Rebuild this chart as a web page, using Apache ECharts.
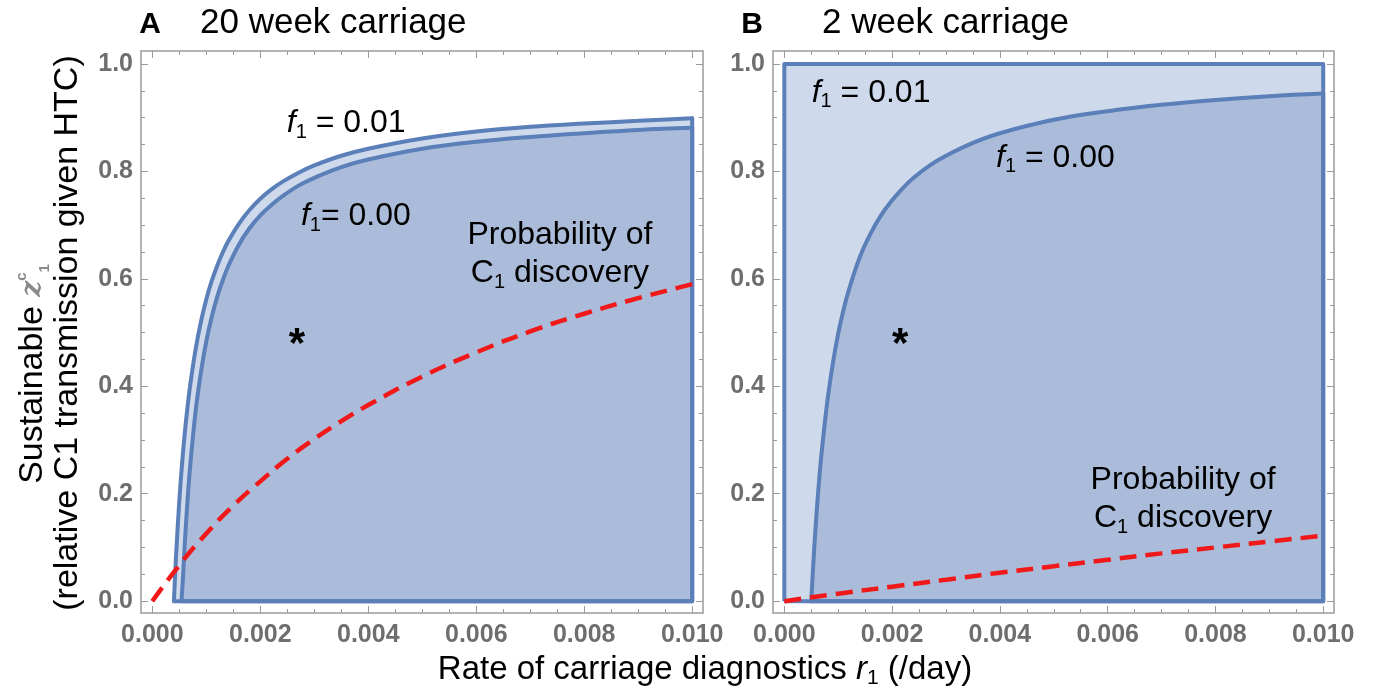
<!DOCTYPE html>
<html>
<head>
<meta charset="utf-8">
<script src="https://cdn.jsdelivr.net/npm/echarts@6/dist/echarts.min.js"></script>
<style>html,body{margin:0;background:#fff}#main{width:1374px;height:692px}</style>
</head>
<body>
<div id="main"></div>
<script>
// panel A (20 week carriage) - f1 = 0.01 boundary
const rA_f01 = [0.0004, 0.00042, 0.00045, 0.0005, 0.00055, 0.0006, 0.00065, 0.0007, 0.0008, 0.0009, 0.001, 0.0011, 0.0012, 0.0013, 0.0014, 0.0016, 0.0018, 0.002, 0.0022, 0.0024, 0.0027, 0.003, 0.0035, 0.004, 0.005, 0.006, 0.007, 0.008, 0.009, 0.010]
const zA_f01 = [0, 0.045, 0.104, 0.187, 0.255, 0.312, 0.360, 0.401, 0.468, 0.520, 0.562, 0.596, 0.624, 0.648, 0.669, 0.702, 0.728, 0.749, 0.766, 0.780, 0.797, 0.811, 0.829, 0.842, 0.861, 0.874, 0.883, 0.889, 0.894, 0.899]
// panel A - f1 = 0.00 boundary
const rA_f00 = [0.00054, 0.00057, 0.0006, 0.00065, 0.0007, 0.0008, 0.0009, 0.001, 0.0011, 0.0012, 0.0013, 0.0014, 0.0016, 0.0018, 0.002, 0.0022, 0.0024, 0.0027, 0.003, 0.0035, 0.004, 0.005, 0.006, 0.007, 0.008, 0.009, 0.010]
const zA_f00 = [0, 0.048, 0.105, 0.185, 0.250, 0.352, 0.426, 0.484, 0.529, 0.566, 0.596, 0.622, 0.663, 0.694, 0.718, 0.737, 0.753, 0.773, 0.788, 0.808, 0.822, 0.842, 0.855, 0.864, 0.871, 0.877, 0.881]
// panel A - probability of C1 discovery
const rA_disc = [0, 0.0005, 0.001, 0.0015, 0.002, 0.0025, 0.003, 0.0035, 0.004, 0.005, 0.006, 0.007, 0.008, 0.009, 0.010]
const pA_disc = [0, 0.067, 0.126, 0.178, 0.223, 0.265, 0.302, 0.335, 0.365, 0.418, 0.463, 0.502, 0.535, 0.564, 0.590]

// panel B (2 week carriage) - f1 = 0.01 covers the whole box
const rB_f01 = [0, 0, 0.010, 0.010, 0]
const zB_f01 = [0, 1, 1, 0, 0]
// panel B - f1 = 0.00 boundary
const rB_f00 = [0.0005, 0.00052, 0.00055, 0.0006, 0.00065, 0.0007, 0.0008, 0.0009, 0.001, 0.0011, 0.0012, 0.0014, 0.0016, 0.0018, 0.002, 0.0022, 0.0024, 0.0027, 0.003, 0.0035, 0.004, 0.005, 0.006, 0.007, 0.008, 0.009, 0.010]
const zB_f00 = [0, 0.038, 0.090, 0.166, 0.230, 0.284, 0.373, 0.442, 0.498, 0.543, 0.580, 0.640, 0.684, 0.719, 0.746, 0.769, 0.788, 0.811, 0.829, 0.853, 0.871, 0.896, 0.912, 0.924, 0.933, 0.940, 0.945]
// panel B - probability of C1 discovery
const rB_disc = [0, 0.001, 0.002, 0.003, 0.004, 0.005, 0.006, 0.007, 0.008, 0.009, 0.010]
const pB_disc = [0, 0.014, 0.027, 0.040, 0.053, 0.065, 0.077, 0.089, 0.100, 0.111, 0.122]

// ticks
const xMajor = [0, 0.002, 0.004, 0.006, 0.008, 0.010]
const xMinor = [0.0005, 0.001, 0.0015, 0.0025, 0.003, 0.0035, 0.0045, 0.005, 0.0055, 0.0065, 0.007, 0.0075, 0.0085, 0.009, 0.0095]
const yMajor = [0, 0.2, 0.4, 0.6, 0.8, 1.0]
const yMinor = [0.05, 0.1, 0.15, 0.25, 0.3, 0.35, 0.45, 0.5, 0.55, 0.65, 0.7, 0.75, 0.85, 0.9, 0.95]

const FONT = "'Liberation Sans', Arial, sans-serif"
const BLUE = '#5b7fb8'
const LIGHT = '#ced9eb'
const MID = '#abbcda'
const RED = '#f01818'
const FRAME = '#9a9a9a'

const chart = echarts.init(document.getElementById('main'), null, {renderer: 'canvas'})

function xAx(g, pos, ticks, len, withLabels) {
  return {
    type: 'value', gridIndex: g, position: pos, min: -0.00021, max: 0.0102,
    axisLine: {show: false, onZero: false},
    splitLine: {show: false},
    axisTick: {show: true, inside: true, length: len, customValues: ticks, lineStyle: {color: FRAME, width: 1}},
    axisLabel: {show: withLabels, customValues: xMajor, margin: 10, formatter: v => v.toFixed(3),
      color: '#6e6e6e', fontWeight: 'bold', fontSize: 25, fontFamily: FONT}
  }
}
function yAx(g, pos, ticks, len, withLabels) {
  return {
    type: 'value', gridIndex: g, position: pos, min: -0.022, max: 1.024,
    axisLine: {show: false, onZero: false},
    splitLine: {show: false},
    axisTick: {show: true, inside: true, length: len, customValues: ticks, lineStyle: {color: FRAME, width: 1}},
    axisLabel: {show: withLabels, customValues: yMajor, margin: 8, formatter: v => v.toFixed(1),
      color: '#6e6e6e', fontWeight: 'bold', fontSize: 25, fontFamily: FONT}
  }
}

function pairs(xs, ys) { return xs.map((x, i) => [x, ys[i]]) }

// a region under a curve, closed along x = 0.01 and the bottom edge
function region(xs, ys, fill, xi) {
  const n = xs.length - 1
  const closed = pairs(xs, ys).concat([[xs[n], 0], [xs[0], 0]])
  return [
    {type: 'line', xAxisIndex: xi, yAxisIndex: xi, data: closed, symbol: 'none', silent: true,
      lineStyle: {width: 0}, areaStyle: {color: fill, opacity: 1}},
    {type: 'line', xAxisIndex: xi, yAxisIndex: xi, data: [[xs[n], ys[n]], [xs[n], 0], [xs[0], 0]], symbol: 'none', silent: true,
      lineStyle: {color: BLUE, width: 4, join: 'round', cap: 'round'}},
    {type: 'line', xAxisIndex: xi, yAxisIndex: xi, data: pairs(xs, ys), symbol: 'none', silent: true, smooth: 0.4,
      lineStyle: {color: BLUE, width: 4, cap: 'round'}}
  ]
}
function box(xs, ys, fill, xi) {
  return [{type: 'line', xAxisIndex: xi, yAxisIndex: xi, data: pairs(xs, ys), symbol: 'none', silent: true,
    lineStyle: {color: BLUE, width: 4, join: 'round'}, areaStyle: {color: fill, opacity: 1}}]
}
function dashed(xs, ys, xi) {
  return {
    type: 'line', xAxisIndex: xi, yAxisIndex: xi, data: pairs(xs, ys),
    symbol: 'none', smooth: true, silent: true, z: 5,
    lineStyle: {color: RED, width: 4.5, type: [17, 9]}
  }
}

const rich = {
  n: {fontSize: 32, fontFamily: FONT, color: '#000', lineHeight: 38},
  i: {fontSize: 32, fontFamily: FONT, fontStyle: 'italic', color: '#000', lineHeight: 38},
  s: {fontSize: 20, fontFamily: FONT, color: '#000', lineHeight: 20, verticalAlign: 'bottom'},
  star: {fontSize: 42, fontFamily: FONT, fontWeight: 'bold', color: '#000'}
}
function note(at, text, xi) {
  return {
    type: 'scatter', xAxisIndex: xi, yAxisIndex: xi, symbolSize: 1, silent: true, z: 10,
    itemStyle: {color: 'rgba(0,0,0,0)'},
    data: [at],
    label: {show: true, position: 'inside', formatter: text, rich: rich, color: '#000', opacity: 1,
      align: 'center', verticalAlign: 'middle'}
  }
}
const probText = '{n|Probability of}\n{n|C}{s|1}{n| discovery}'

const option = {
  animation: false,
  backgroundColor: '#fff',
  grid: [
    {left: 141, top: 51, width: 562, height: 562, show: true, borderColor: FRAME, borderWidth: 1.5},
    {left: 773, top: 51, width: 561, height: 562, show: true, borderColor: FRAME, borderWidth: 1.5}
  ],
  xAxis: [
    xAx(0, 'bottom', xMajor, 7, true), xAx(0, 'top', xMajor, 7, false),
    xAx(0, 'bottom', xMinor, 4, false), xAx(0, 'top', xMinor, 4, false),
    xAx(1, 'bottom', xMajor, 7, true), xAx(1, 'top', xMajor, 7, false),
    xAx(1, 'bottom', xMinor, 4, false), xAx(1, 'top', xMinor, 4, false)
  ],
  yAxis: [
    yAx(0, 'left', yMajor, 7, true), yAx(0, 'right', yMajor, 7, false),
    yAx(0, 'left', yMinor, 4, false), yAx(0, 'right', yMinor, 4, false),
    yAx(1, 'left', yMajor, 7, true), yAx(1, 'right', yMajor, 7, false),
    yAx(1, 'left', yMinor, 4, false), yAx(1, 'right', yMinor, 4, false)
  ],
  series: [].concat(
    region(rA_f01, zA_f01, LIGHT, 0),
    region(rA_f00, zA_f00, MID, 0),
    [dashed(rA_disc, pA_disc, 0)],
    box(rB_f01, zB_f01, LIGHT, 4),
    region(rB_f00, zB_f00, MID, 4),
    [dashed(rB_disc, pB_disc, 4)],
    [
      note([0.00359, 0.89], '{i|f}{s|1}{n| = 0.01}', 0),
      note([0.00377, 0.716], '{i|f}{s|1}{n|= 0.00}', 0),
      note([0.00755, 0.645], probText, 0),
      note([0.00268, 0.476], '{star|*}', 0),
      note([0.00161, 0.946], '{i|f}{s|1}{n| = 0.01}', 4),
      note([0.00503, 0.825], '{i|f}{s|1}{n| = 0.00}', 4),
      note([0.0074, 0.19], probText, 4),
      note([0.00215, 0.476], '{star|*}', 4)
    ]
  ),
  graphic: [
    {type: 'text', x: 150, y: 25, style: {text: 'A', font: 'bold 30px ' + FONT, fill: '#000', textAlign: 'center', textVerticalAlign: 'middle'}},
    {type: 'text', x: 200, y: 23, style: {text: '20 week carriage', font: '35px ' + FONT, fill: '#000', textAlign: 'left', textVerticalAlign: 'middle'}},
    {type: 'text', x: 752, y: 25, style: {text: 'B', font: 'bold 30px ' + FONT, fill: '#000', textAlign: 'center', textVerticalAlign: 'middle'}},
    {type: 'text', x: 822, y: 23, style: {text: '2 week carriage', font: '35px ' + FONT, fill: '#000', textAlign: 'left', textVerticalAlign: 'middle'}},
    {type: 'text', x: 705, y: 670, style: {
      text: '{n|Rate of carriage diagnostics }{i|r}{s|1}{n| (/day)}', textAlign: 'center', textVerticalAlign: 'middle',
      rich: {n: {fontSize: 33, fontFamily: FONT, fill: '#000', lineHeight: 38}, i: {fontSize: 33, fontFamily: FONT, fontStyle: 'italic', fill: '#000', lineHeight: 38}, s: {fontSize: 21, fontFamily: FONT, fill: '#000', lineHeight: 20, verticalAlign: 'bottom'}}
    }},
    {type: 'text', x: 33, y: 374, rotation: Math.PI / 2, style: {
      text: '{n|Sustainable }{z|z}{sup|c}{sub|1}', textAlign: 'center', textVerticalAlign: 'middle',
      rich: {n: {fontSize: 34, fontFamily: FONT, fill: '#000', lineHeight: 38}, z: {fontSize: 28, fontFamily: 'DejaVu Serif', fontStyle: 'italic', fontWeight: 'bold', fill: '#8a8a8a', lineHeight: 38}, sup: {fontSize: 15, fontFamily: FONT, fill: '#8a8a8a', fontWeight: 'bold', lineHeight: 30, verticalAlign: 'top'}, sub: {fontSize: 15, fontFamily: FONT, fill: '#8a8a8a', fontWeight: 'bold', lineHeight: 30, verticalAlign: 'bottom'}}
    }},
    {type: 'text', x: 68, y: 333, rotation: Math.PI / 2, style: {
      text: '(relative C1 transmission given HTC)', font: '34px ' + FONT, fill: '#000', textAlign: 'center', textVerticalAlign: 'middle'
    }}
  ]
}
chart.setOption(option)
</script>
</body>
</html>
